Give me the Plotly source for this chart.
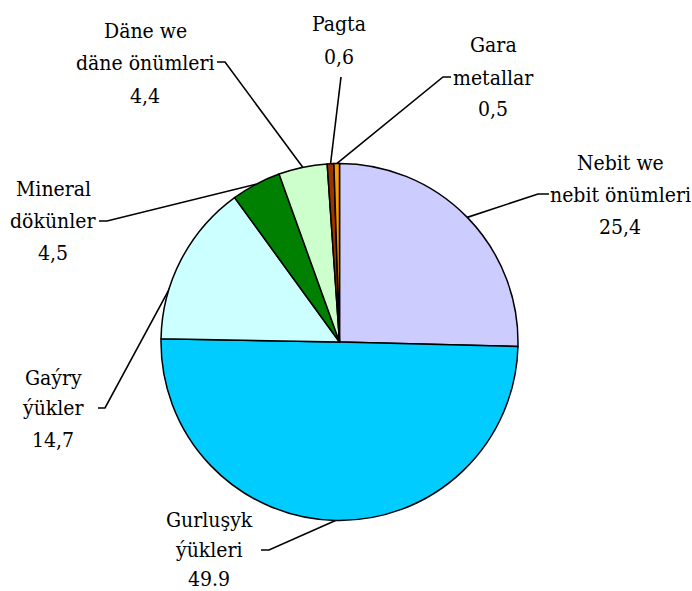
import math
import plotly.graph_objects as go

# ---- data ----
categories = ["Nebit we nebit önümleri", "Gurluşyk ýükleri", "Gaýry ýükler",
              "Mineral dökünler", "Däne we däne önümleri", "Pagta", "Gara metallar"]
values = [25.4, 49.9, 14.7, 4.5, 4.4, 0.6, 0.5]
value_labels = ["25,4", "49.9", "14,7", "4,5", "4,4", "0,6", "0,5"]
name_lines = [["Nebit we", "nebit önümleri"], ["Gurluşyk", "ýükleri"], ["Gaýry", "ýükler"],
              ["Mineral", "dökünler"], ["Däne we", "däne önümleri"], ["Pagta"], ["Gara", "metallar"]]

# ---- styles / layout ----
colors = ["#CCCCFF", "#00CCFF", "#CCFFFF", "#008000", "#CCFFCC", "#993300", "#FF9900"]
W, H = 692, 591
CX, CY, R = 339.5, 342.0, 178.5          # pie centre / radius in pixels
FONT = "DejaVu Serif Condensed"
FS = 21
# label text centres (x) and line y positions, pixels
label_x = [620, 209, 53, 53, 145, 339, 493]
label_y = [[163, 195, 227], [520, 550, 579], [378, 408, 440], [189, 221, 253],
           [31, 63, 96], [24, 57], [45, 78, 109]]
# leader stubs (pixel points before the edge point) and edge radius factor
stubs = [[(549, 194), (538, 194)], [(261, 550), (269, 550)], [(98, 408), (105, 408)],
         [(99, 221), (107, 221)], [(217, 62), (225, 62)], [(341, 77)], [(451, 77), (443, 77)]]
edge_r = [1.0, 1.0, 0.98, 1.0, 1.0, 1.0, 1.0]


def px_to_ax(px, py):
    return (px - CX) / R, (CY - py) / R


fig = go.Figure()
fig.add_trace(go.Pie(
    labels=categories, values=values, sort=False, direction="clockwise", rotation=0,
    marker=dict(colors=colors, line=dict(color="black", width=1.5)),
    textinfo="none", hoverinfo="label+value", showlegend=False,
    domain=dict(x=[(CX - R) / W, (CX + R) / W], y=[(H - CY - R) / H, (H - CY + R) / H]),
))

total = sum(values)
cum = 0.0
annotations = []
for i, v in enumerate(values):
    mid = (cum + v / 2) / total * 2 * math.pi
    cum += v
    ex, ey = edge_r[i] * math.sin(mid), edge_r[i] * math.cos(mid)
    pts = [px_to_ax(*p) for p in stubs[i]] + [(ex, ey)]
    fig.add_trace(go.Scatter(x=[p[0] for p in pts], y=[p[1] for p in pts], mode="lines",
                             line=dict(color="black", width=1.6), hoverinfo="skip",
                             showlegend=False))
    lines = name_lines[i] + [value_labels[i]]
    for t, ly in zip(lines, label_y[i]):
        ax, ay = px_to_ax(label_x[i], ly)
        annotations.append(dict(x=ax, y=ay, xref="x", yref="y", text=t, showarrow=False,
                                xanchor="center", yanchor="middle",
                                font=dict(family=FONT, size=FS, color="black")))

fig.update_layout(
    width=W, height=H, autosize=False,
    margin=dict(l=0, r=0, t=0, b=0),
    font=dict(family=FONT),
    paper_bgcolor="white", plot_bgcolor="rgba(0,0,0,0)",
    xaxis=dict(domain=[0, 1], range=[(0 - CX) / R, (W - CX) / R], visible=False, fixedrange=True),
    yaxis=dict(domain=[0, 1], range=[-(H - CY) / R, CY / R], visible=False, fixedrange=True),
    annotations=annotations,
)
fig.write_html("out.html", config={"displayModeBar": False},
               post_script="document.body.style.margin='0';document.body.style.overflow='hidden';")
